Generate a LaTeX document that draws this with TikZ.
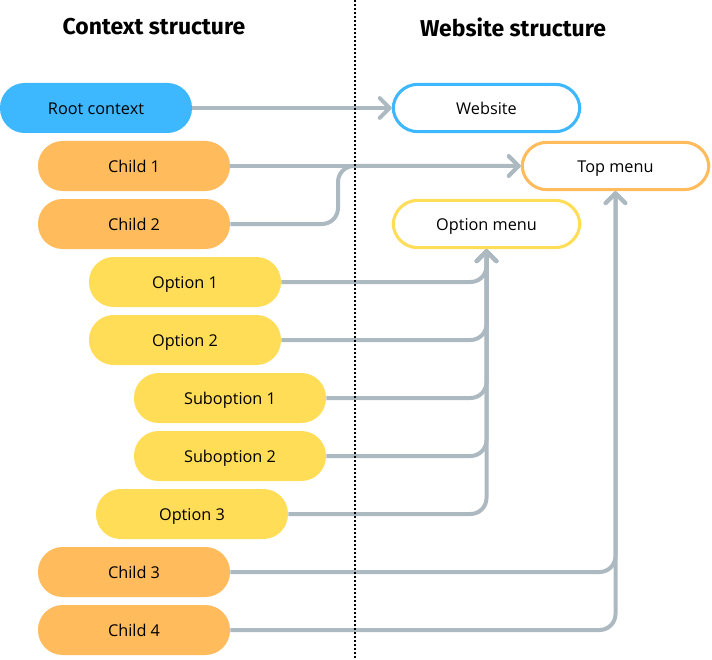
\documentclass[tikz,border=0pt]{standalone}
\usepackage{fontspec}
\setmainfont{Open Sans}
\newfontfamily\titlefont{Fira Sans}
\usetikzlibrary{arrows.meta,positioning}

\definecolor{rootblue}{HTML}{3DB8FF}
\definecolor{childorange}{HTML}{FFBB5C}
\definecolor{optyellow}{HTML}{FFDD57}
\definecolor{linkgray}{HTML}{ADB9C1}

\begin{document}
\begin{tikzpicture}[x=0.75pt,y=-0.75pt]
\tikzset{
  ctxnode/.style={rectangle,rounded corners=18.5pt,minimum width=144pt,minimum height=37.5pt,inner sep=1pt,text height=1.9ex,text depth=0.2ex,font=\fontsize{12.2}{14}\selectfont},
  webnode/.style={ctxnode,fill=white,line width=2.3pt,minimum width=140pt,minimum height=35.5pt},
  heading/.style={font=\titlefont\bfseries\fontsize{17.2}{20}\selectfont},
  link/.style={draw=linkgray,line width=3pt,rounded corners=12pt,-{Straight Barb[length=2.6mm,width=5.2mm,round]}}
}
\useasboundingbox (0,0) rectangle (712,659);
% headings
\node[heading] (h_ctx) at (154,27) {Context structure};
\node[heading] (h_web) at (513,27) {Website structure};
% context side
\node[ctxnode,fill=rootblue] (n_root) at (96,108) {Root context};
\node[ctxnode,fill=childorange] (n_child1) at (134,166) {Child 1};
\node[ctxnode,fill=childorange] (n_child2) at (134,224) {Child 2};
\node[ctxnode,fill=optyellow] (n_opt1) at (185,282) {Option 1};
\node[ctxnode,fill=optyellow] (n_opt2) at (185,340) {Option 2};
\node[ctxnode,fill=optyellow] (n_sub1) at (230,398) {Suboption 1};
\node[ctxnode,fill=optyellow] (n_sub2) at (230,456) {Suboption 2};
\node[ctxnode,fill=optyellow] (n_opt3) at (192,514) {Option 3};
\node[ctxnode,fill=childorange] (n_child3) at (134,572) {Child 3};
\node[ctxnode,fill=childorange] (n_child4) at (134,630) {Child 4};
% website side
\node[webnode,draw=rootblue] (n_web) at (486.5,108) {Website};
\node[webnode,draw=childorange] (n_top) at (615.5,166) {Top menu};
\node[webnode,draw=optyellow] (n_optmenu) at (486.5,224) {Option menu};
\coordinate (c_bend) at (338,224);
% connectors
\draw[link] (n_root) -- (n_web);
\draw[link] (n_child1) -- (n_top);
\draw[link] (n_child2.east) -- (c_bend) |- (n_top.west);
\draw[link] (n_opt1.east) -| (n_optmenu.south);
\draw[link] (n_opt2.east) -| (n_optmenu.south);
\draw[link] (n_sub1.east) -| (n_optmenu.south);
\draw[link] (n_sub2.east) -| (n_optmenu.south);
\draw[link] (n_opt3.east) -| (n_optmenu.south);
\draw[link] (n_child3.east) -| (n_top.south);
\draw[link] (n_child4.east) -| (n_top.south);
% divider
\coordinate (d_top) at (355,0);
\coordinate (d_bot) at (355,659);
\draw[line width=1.4pt,dash pattern=on 1.4pt off 1.6pt] (d_top) -- (d_bot);
\end{tikzpicture}
\end{document}
